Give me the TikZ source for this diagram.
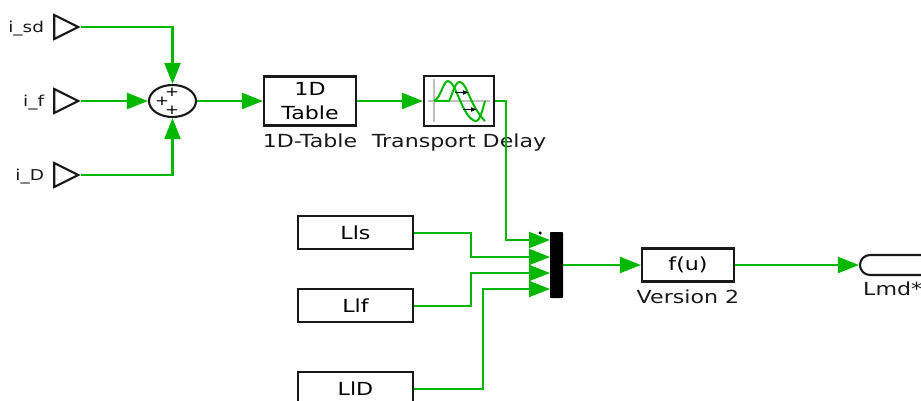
\documentclass[tikz,border=0pt]{standalone}
\usepackage{fontspec}
\setmainfont[FakeStretch=1.23]{DejaVu Sans}
\usetikzlibrary{shapes,shapes.misc,arrows.meta,positioning}
\definecolor{wiregreen}{RGB}{0,184,0}
\definecolor{blockline}{RGB}{25,25,25}
\tikzset{
    wire/.style={draw=wiregreen, line width=2.4pt, -{Triangle[length=21pt,width=16pt,fill=wiregreen]}},
    thinwire/.style={wire, line width=2pt},
    block/.style={draw=blockline, line width=2.1pt, rectangle, inner sep=0pt, font=\fontsize{18}{24}\selectfont, align=center},
    inport/.style={draw=blockline, line width=2.1pt, isosceles triangle, isosceles triangle stretches, minimum width=24pt, minimum height=24pt, inner sep=0pt, anchor=apex},
    portname/.style={font=\fontsize{15}{18}\selectfont, text=blockline, inner sep=0pt, yshift=-2pt},
    blockname/.style={font=\fontsize{18}{21}\selectfont, text=blockline, inner sep=0pt},
    plus/.style={font=\fontsize{13.5}{13.5}\selectfont, inner sep=0pt, text height=7pt, text depth=0pt}
}

\begin{document}
\begin{tikzpicture}[x=1pt, y=-1pt]
\useasboundingbox (0,0) rectangle (921,401);
\node[inport] (ISD) at (81,27) {};
\node[inport] (IF) at (81,101) {};
\node[inport] (ID) at (81,175) {};
\node[portname, left=9pt of ISD.west] (ISDN) {i\_sd};
\node[portname, left=9pt of IF.west] (IFN) {i\_f};
\node[portname, left=9pt of ID.west] (IDN) {i\_D};
%============
\node[draw=blockline, line width=2.1pt, ellipse, minimum width=47pt, minimum height=32pt, inner sep=0pt] (SUM) at (172.5,101) {};
\node[plus] (P1) at (172,93) {+};
\node[plus] (P2) at (162,102) {+};
\node[plus] (P3) at (172,111) {+};
\node[block, minimum width=92pt, minimum height=49pt] (TAB) at (310,101) {1D\\Table};
\node[block, minimum width=70pt, minimum height=50pt] (DEL) at (459,101) {};
\node[blockname, below=7pt of TAB] (TABN) {1D-Table};
\node[blockname, below=6.5pt of DEL] (DELN) {Transport Delay};
%============
\node[block, minimum width=115pt, minimum height=33pt] (LS) at (355.5,232.5) {Lls};
\node[block, minimum width=115pt, minimum height=33pt] (LF) at (355.5,305.5) {Llf};
\node[block, minimum width=115pt, minimum height=33pt] (LD) at (355.5,388.5) {LlD};
\node[fill=black, rounded corners=0.8pt, minimum width=13pt, minimum height=66pt, inner sep=0pt] (MUX) at (556.5,265) {};
\node[fill=black, circle, minimum size=3.5pt, inner sep=0pt] (DOT) at (540,233) {};
\node[block, minimum width=92pt, minimum height=33pt] (FU) at (688,265) {f(u)};
\node[blockname, below=7pt of FU] (FUN) {Version 2};
\node[draw=blockline, line width=2.1pt, rounded rectangle, rounded rectangle right arc=none, minimum width=90pt, minimum height=20pt, inner sep=0pt] (GOTO) at (905,265) {};
\node[blockname, anchor=west] (GOTON) at (863,289) {Lmd*};
%==========
\coordinate (M1) at (550,240);
\coordinate (M2) at (550,257);
\coordinate (M3) at (550,273);
\coordinate (M4) at (550,289);

\draw[wire] (ISD.apex) -| (SUM.north);
\draw[wire] (IF.apex) -- (SUM.west);
\draw[wire] (ID.apex) -| (SUM.south);
\draw[wire] (SUM.east) -- (TAB.west);
\draw[wire] (TAB.east) -- (DEL.west);
\draw[wire] (DEL.east) -- ++(11,0) |- (M1);
\draw[thinwire] (LS.east) -- ++(57,0) |- (M2);
\draw[thinwire] (LF.east) -- ++(57,0) |- (M3);
\draw[thinwire] (LD.east) -- ++(69,0) |- (M4);
\draw[thinwire] (MUX.east) -- (FU.west);
\draw[thinwire] (FU.east) -- (GOTO.west);

% delay icon
\draw[gray!50, line width=1.6pt] (434,79) -- (434,122);
\draw[gray!50, line width=1.6pt] (428,101) -- (490,101);
\draw[wiregreen, line width=2pt] (434,101) .. controls (441,98) and (443,81) .. (448,81) .. controls (456,81) and (463,120) .. (476,121) .. controls (480,121) and (483,108) .. (485,101);
\draw[wiregreen, line width=2pt] (434,101) -- (449,101) .. controls (452,96) and (455,81) .. (460,82) .. controls (467,83) and (470,106) .. (485,121);
\draw[-{Latex[length=6pt,width=5pt]}, line width=1.2pt] (455,92.5) -- (469,92.5);
\draw[-{Latex[length=6pt,width=5pt]}, line width=1.2pt] (463,109.5) -- (477,109.5);
\end{tikzpicture}
\end{document}
